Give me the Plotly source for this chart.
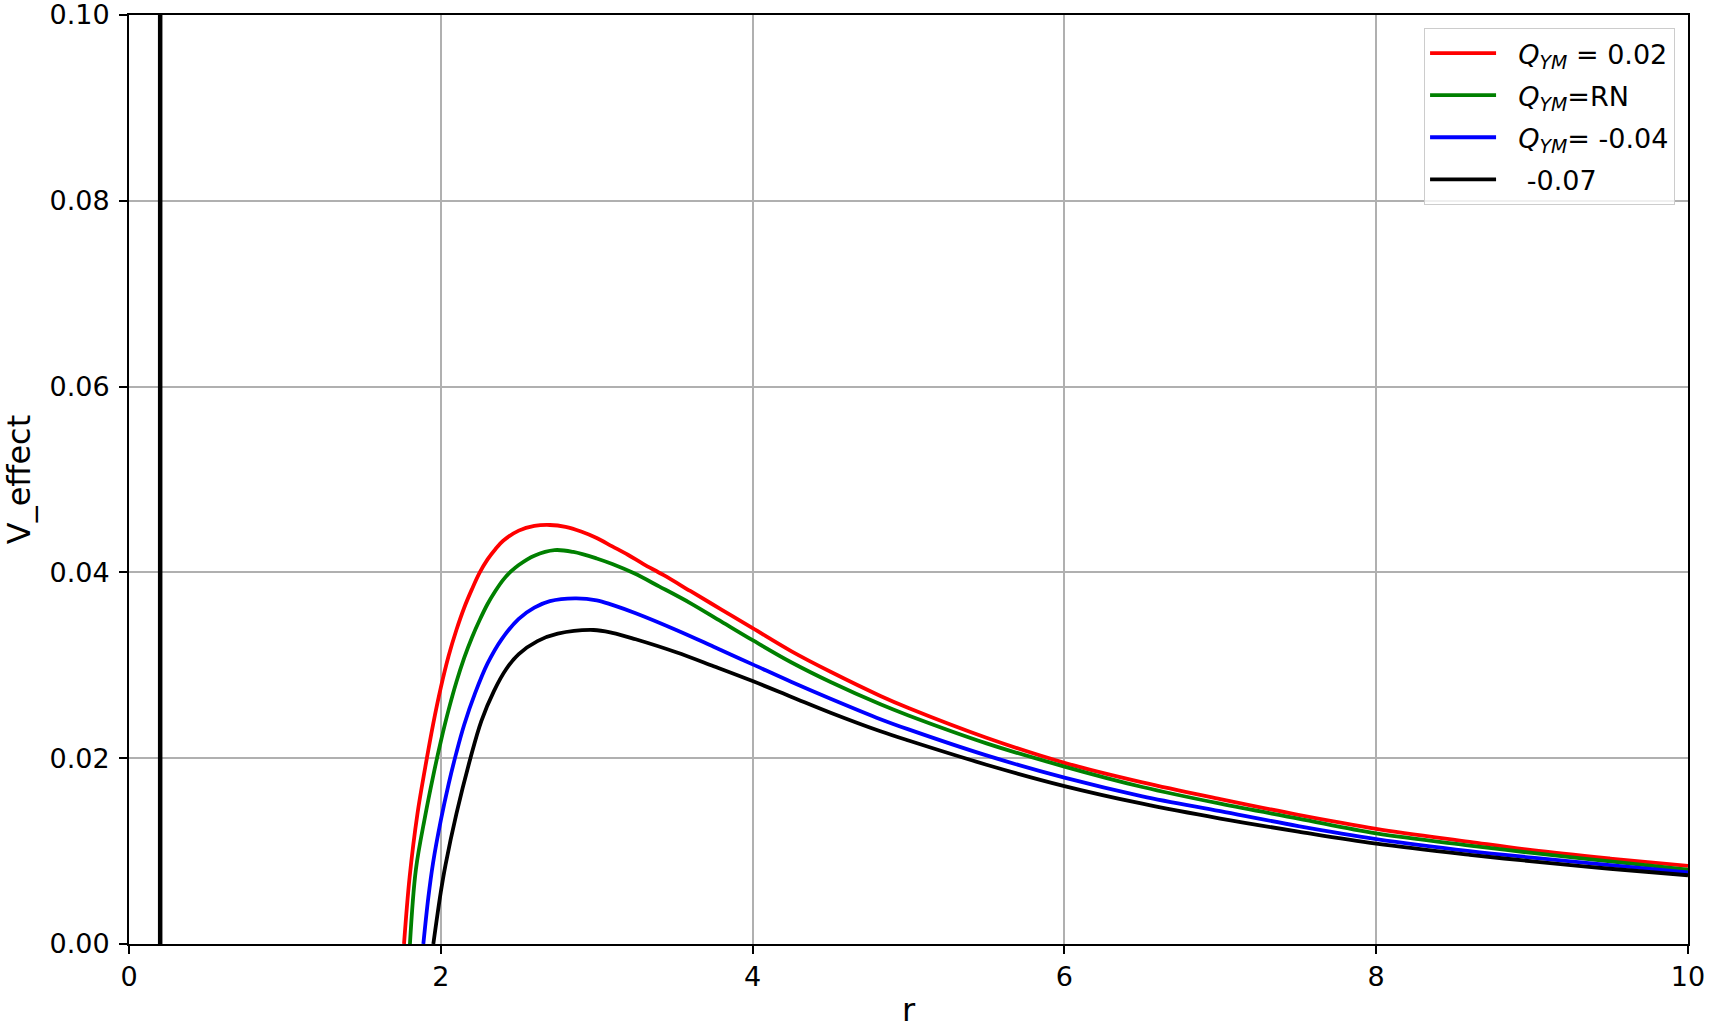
import plotly.graph_objects as go

# ---- data ----
r_red = [1.764, 1.80, 1.85, 1.90, 1.95, 2.00, 2.05, 2.10, 2.15, 2.20, 2.25, 2.30, 2.35, 2.40, 2.50, 2.60, 2.70,
         2.80, 2.90, 3.00, 3.10, 3.20, 3.30, 3.43, 3.60, 3.80, 4.00, 4.25, 4.50, 4.82, 5.00, 5.50, 6.00, 6.50,
         7.00, 7.50, 8.00, 8.60, 9.00, 9.50, 10.0]
v_red = [0.0, 0.0072, 0.0140, 0.0190, 0.0236, 0.0276, 0.0310, 0.0338, 0.0362, 0.0382, 0.0400, 0.0414, 0.0425,
         0.0434, 0.0445, 0.0450, 0.0451, 0.0449, 0.0444, 0.0437, 0.0428, 0.0419, 0.0409, 0.0397, 0.0380, 0.0360,
         0.0340, 0.0315, 0.0293, 0.0267, 0.0254, 0.0222, 0.0195, 0.0174, 0.0156, 0.0139, 0.0124, 0.0110, 0.0101,
         0.0092, 0.0084]

r_green = [1.802, 1.84, 1.90, 1.95, 2.00, 2.05, 2.10, 2.15, 2.20, 2.25, 2.30, 2.35, 2.40, 2.45, 2.50, 2.60, 2.73,
           2.85, 3.00, 3.10, 3.24, 3.40, 3.60, 3.80, 4.00, 4.25, 4.50, 4.82, 5.00, 5.50, 6.00, 6.50, 7.00, 7.50,
           8.00, 8.60, 9.00, 9.50, 10.0]
v_green = [0.0, 0.0080, 0.0138, 0.0180, 0.0218, 0.0252, 0.0282, 0.0308, 0.0330, 0.0349, 0.0366, 0.0380, 0.0392,
           0.0401, 0.0408, 0.0418, 0.0424, 0.0422, 0.0415, 0.0409, 0.0399, 0.0385, 0.0367, 0.0347, 0.0327, 0.0303,
           0.0282, 0.0258, 0.0246, 0.0216, 0.0191, 0.0169, 0.0151, 0.0135, 0.0119, 0.0106, 0.0098, 0.0089, 0.0080]

r_blue = [1.888, 1.92, 1.95, 2.00, 2.05, 2.10, 2.15, 2.22, 2.30, 2.39, 2.50, 2.60, 2.70, 2.86, 3.00, 3.10, 3.25,
          3.51, 3.75, 4.00, 4.25, 4.50, 4.82, 5.00, 5.50, 6.00, 6.50, 7.00, 7.50, 8.00, 8.60, 9.00, 9.50, 10.0]
v_blue = [0.0, 0.0050, 0.0087, 0.0133, 0.0172, 0.0206, 0.0236, 0.0270, 0.0302, 0.0328, 0.0350, 0.0362, 0.0369,
          0.0372, 0.0370, 0.0365, 0.0356, 0.0338, 0.0320, 0.0301, 0.0282, 0.0264, 0.0242, 0.0231, 0.0203, 0.0179,
          0.0159, 0.0143, 0.0127, 0.0113, 0.0100, 0.0093, 0.0085, 0.0077]

r_black = [1.952, 2.00, 2.03, 2.10, 2.19, 2.26, 2.34, 2.42, 2.50, 2.62, 2.75, 2.98, 3.10, 3.25, 3.51, 3.75, 4.00,
           4.25, 4.50, 4.82, 5.00, 5.50, 6.00, 6.50, 7.00, 7.50, 8.00, 8.60, 9.00, 9.50, 10.0]
v_black = [0.0, 0.0056, 0.0085, 0.0140, 0.0200, 0.0240, 0.0272, 0.0296, 0.0312, 0.0326, 0.0334, 0.0338, 0.0335,
           0.0328, 0.0314, 0.0299, 0.0283, 0.0266, 0.0249, 0.0229, 0.0219, 0.0193, 0.0170, 0.0151, 0.0135, 0.0121,
           0.0108, 0.0096, 0.0089, 0.0081, 0.0074]

r_spike = [0.2, 0.2]
v_spike = [0.0, 0.11]

names = ["  <i>Q</i><sub><i>YM</i></sub> = 0.02",
         "  <i>Q</i><sub><i>YM</i></sub>=RN",
         "  <i>Q</i><sub><i>YM</i></sub>= -0.04",
         "   -0.07"]
colors = ["#ff0000", "#008000", "#0000ff", "#000000"]

x_ticks = [0, 2, 4, 6, 8, 10]
y_ticks = [0.0, 0.02, 0.04, 0.06, 0.08, 0.10]
y_tick_labels = ["0.00", "0.02", "0.04", "0.06", "0.08", "0.10"]

fig = go.Figure()
series = [(r_red, v_red), (r_green, v_green), (r_blue, v_blue), (r_black, v_black)]
for i, ((rx, vy), nm, col) in enumerate(zip(series, names, colors)):
    fig.add_trace(go.Scatter(x=rx, y=vy, mode="lines", name=nm,
                             line=dict(color=col, width=3.8, shape="spline", smoothing=1.0),
                             legendgroup=f"g{i}"))
fig.add_trace(go.Scatter(x=r_spike, y=v_spike, mode="lines", showlegend=False,
                         line=dict(color="#000000", width=4.5), legendgroup="g3"))

font = "DejaVu Sans, Verdana, sans-serif"
fig.update_layout(
    width=1713, height=1029,
    margin=dict(l=129, r=25, t=15, b=85),
    paper_bgcolor="white", plot_bgcolor="white",
    font=dict(family=font, size=27, color="black"),
    showlegend=True,
    legend=dict(x=0.9917, y=0.986, xanchor="right", yanchor="top",
                bgcolor="rgba(255,255,255,0.8)", bordercolor="#cccccc", borderwidth=1,
                font=dict(size=27), traceorder="grouped", tracegroupgap=4, itemwidth=66),
)
fig.update_xaxes(range=[0, 10], tickvals=x_ticks, ticktext=[str(t) for t in x_ticks],
                 showgrid=True, gridcolor="#b0b0b0", gridwidth=1.5, automargin=False,
                 ticklabeloverflow="allow",
                 showline=True, linecolor="black", linewidth=2, mirror=True,
                 ticks="outside", ticklen=8, tickwidth=2, tickcolor="black",
                 zeroline=False, title=dict(text="r", standoff=19))
fig.update_yaxes(range=[0, 0.1], tickvals=y_ticks, ticktext=y_tick_labels,
                 showgrid=True, gridcolor="#b0b0b0", gridwidth=1.5, automargin=False,
                 ticklabeloverflow="allow", ticklabelstandoff=4,
                 showline=True, linecolor="black", linewidth=2, mirror=True,
                 ticks="outside", ticklen=8, tickwidth=2, tickcolor="black",
                 zeroline=False, title=dict(text="V_effect", standoff=18))

fig.write_html("out.html", config={"displayModeBar": False},
               post_script="document.body.style.margin='0';")
